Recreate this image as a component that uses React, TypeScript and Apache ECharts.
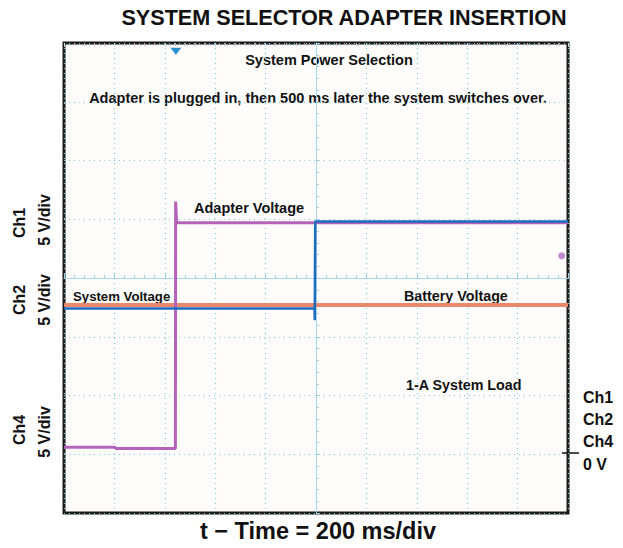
import React, { useEffect, useRef } from "react";
import * as echarts from "echarts";

// time in ms (200 ms/div), voltage in V (5 V/div, 0 V reference at -5 V bottom + 1 div)
const batteryVoltage: [number, number][] = [
  [0, 12.7],
  [2000, 12.7],
];
const adapterVoltage: [number, number][] = [
  [0, 0.6],
  [200, 0.6],
  [205, 0.5],
  [442, 0.5],
  [443, 21.5],
  [447, 19.7],
  [2000, 19.7],
];
const systemVoltage: [number, number][] = [
  [0, 12.4],
  [994, 12.4],
  [995, 11.4],
  [997, 19.8],
  [2000, 19.8],
];
const triggerPoint: [number, number] = [444, 34.3];
const ch4Marker: [number, number] = [1975, 16.9];

const FONT = "'Liberation Sans', Arial, Helvetica, sans-serif";

export default function App() {
  const ref = useRef<HTMLDivElement>(null);
  useEffect(() => {
    if (!ref.current) return;
    const chart = echarts.init(ref.current, undefined, { renderer: "svg" });
    const gridColor = "#7fcbe6";
    const bold = (size: number) => ({ fontFamily: FONT, fontWeight: "bold" as const, fontSize: size, fill: "#111" });
    chart.setOption({
      animation: false,
      backgroundColor: "#ffffff",
      grid: {
        left: 64,
        top: 43,
        width: 504,
        height: 470,
        show: true,
        borderColor: "#1a1a1a",
        borderWidth: 3,
        backgroundColor: "#fffdfc",
      },
      xAxis: [
        {
          type: "value",
          min: 0,
          max: 2000,
          interval: 200,
          axisLabel: { show: false },
          axisLine: { show: false },
          axisTick: { show: false },
          splitLine: { show: true, lineStyle: { color: gridColor, type: [1, 4], width: 1.2 } },
        },
        {
          type: "value",
          min: 0,
          max: 2000,
          interval: 200,
          position: "bottom",
          offset: -235,
          axisLabel: { show: false },
          axisLine: { show: true, lineStyle: { color: "#a9d6e4", width: 1 } },
          axisTick: { show: true, inside: true, length: 4, lineStyle: { color: "#9acde0" } },
          minorTick: { show: true, splitNumber: 5, length: 3, lineStyle: { color: "#a6d4e4" } },
          splitLine: { show: false },
        },
        {
          type: "value",
          min: 0,
          max: 2000,
          interval: 200,
          position: "top",
          axisLabel: { show: false },
          axisLine: { show: false },
          axisTick: { show: true, inside: true, length: 4, lineStyle: { color: "#c0e2ee" } },
          minorTick: { show: true, splitNumber: 5, length: 3, lineStyle: { color: "#d6b8b8" } },
          splitLine: { show: false },
        },
      ],
      yAxis: [
        {
          type: "value",
          min: -5,
          max: 35,
          interval: 5,
          axisLabel: { show: false },
          axisLine: { show: false },
          axisTick: { show: false },
          splitLine: { show: true, lineStyle: { color: gridColor, type: [1, 4], width: 1.2 } },
        },
        {
          type: "value",
          min: -5,
          max: 35,
          interval: 5,
          position: "left",
          offset: -252,
          axisLabel: { show: false },
          axisLine: { show: true, lineStyle: { color: "#a9d6e4", width: 1 } },
          axisTick: { show: true, inside: true, length: 4, lineStyle: { color: "#9acde0" } },
          minorTick: { show: true, splitNumber: 5, length: 3, lineStyle: { color: "#a6d4e4" } },
          splitLine: { show: false },
        },
      ],
      series: [
        {
          name: "Battery Voltage",
          type: "line",
          data: batteryVoltage,
          showSymbol: false,
          lineStyle: { color: "#e9886c", width: 4 },
          z: 3,
        },
        {
          name: "Adapter Voltage",
          type: "line",
          data: adapterVoltage,
          showSymbol: false,
          lineStyle: { color: "#b463b8", width: 3 },
          z: 4,
          markPoint: {
            data: [
              {
                coord: ch4Marker,
                symbol: "circle",
                symbolSize: 7,
                itemStyle: { color: "#c18ad0" },
                label: { show: false },
              },
            ],
          },
        },
        {
          name: "System Voltage",
          type: "line",
          data: systemVoltage,
          showSymbol: false,
          lineStyle: { color: "#1d6cbf", width: 2.5 },
          z: 5,
          markPoint: {
            data: [
              {
                coord: triggerPoint,
                symbol: "triangle",
                symbolRotate: 180,
                symbolSize: [11, 7],
                itemStyle: { color: "#2a8fd0" },
                label: { show: false },
              },
            ],
          },
        },
      ],
      graphic: [
        { type: "text", x: 344, y: 17, style: { text: "SYSTEM SELECTOR ADAPTER INSERTION", ...bold(21.6), align: "center", verticalAlign: "middle" } },
        { type: "text", x: 329, y: 60, style: { text: "System Power Selection", ...bold(14.5), align: "center", verticalAlign: "middle" } },
        { type: "text", x: 318, y: 98, style: { text: "Adapter is plugged in, then 500 ms later the system switches over.", ...bold(14.5), align: "center", verticalAlign: "middle" } },
        { type: "text", x: 194, y: 208, style: { text: "Adapter Voltage", ...bold(14.5), align: "left", verticalAlign: "middle" } },
        { type: "text", x: 73, y: 296, style: { text: "System Voltage", ...bold(13.2), align: "left", verticalAlign: "middle" } },
        { type: "text", x: 404, y: 296, style: { text: "Battery Voltage", ...bold(14.3), align: "left", verticalAlign: "middle" } },
        { type: "text", x: 406, y: 385, style: { text: "1-A System Load", ...bold(14.3), align: "left", verticalAlign: "middle" } },
        { type: "text", x: 19, y: 223, rotation: Math.PI / 2, style: { text: "Ch1", ...bold(16), align: "center", verticalAlign: "middle" } },
        { type: "text", x: 44, y: 220, rotation: Math.PI / 2, style: { text: "5 V/div", ...bold(16), align: "center", verticalAlign: "middle" } },
        { type: "text", x: 19, y: 300, rotation: Math.PI / 2, style: { text: "Ch2", ...bold(16), align: "center", verticalAlign: "middle" } },
        { type: "text", x: 44, y: 300, rotation: Math.PI / 2, style: { text: "5 V/div", ...bold(16), align: "center", verticalAlign: "middle" } },
        { type: "text", x: 19, y: 430, rotation: Math.PI / 2, style: { text: "Ch4", ...bold(16), align: "center", verticalAlign: "middle" } },
        { type: "text", x: 44, y: 432, rotation: Math.PI / 2, style: { text: "5 V/div", ...bold(16), align: "center", verticalAlign: "middle" } },
        { type: "text", x: 583, y: 397, style: { text: "Ch1", ...bold(16), align: "left", verticalAlign: "middle" } },
        { type: "text", x: 583, y: 419, style: { text: "Ch2", ...bold(16), align: "left", verticalAlign: "middle" } },
        { type: "text", x: 583, y: 441, style: { text: "Ch4", ...bold(16), align: "left", verticalAlign: "middle" } },
        { type: "text", x: 583, y: 464, style: { text: "0 V", ...bold(16), align: "left", verticalAlign: "middle" } },
        { type: "line", shape: { x1: 562, y1: 453, x2: 579, y2: 453 }, style: { stroke: "#111", lineWidth: 1.5 } },
        { type: "text", x: 318, y: 531, style: { text: "t − Time = 200 ms/div", ...bold(23.5), align: "center", verticalAlign: "middle" } },
      ],
    });
    return () => chart.dispose();
  }, []);
  return <div ref={ref} style={{ position: "absolute", left: 0, top: 0, width: 623, height: 548 }} />;
}
